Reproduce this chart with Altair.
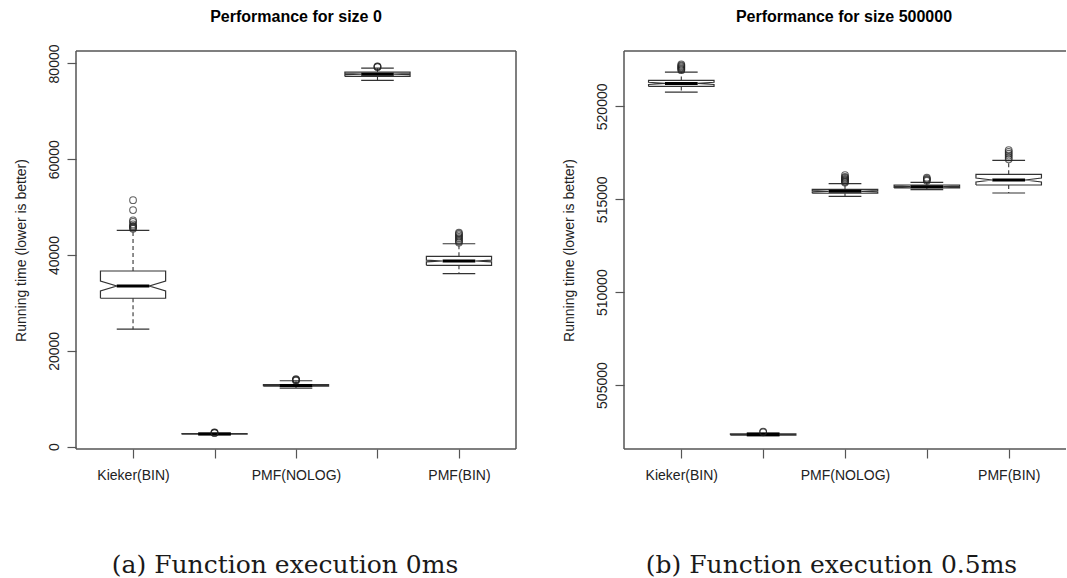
import altair as alt
import pandas as pd

# ---------------- data ----------------
categories = ["Kieker(BIN)", "Kieker(NOLOG)", "PMF(NOLOG)", "PMF(ASCII)", "PMF(BIN)"]
shown_labels = ["Kieker(BIN)", "", "PMF(NOLOG)", "", "PMF(BIN)"]

# Panel (a): size 0
s0_q1 = [30980, 2600, 12600, 77290, 37850]
s0_med = [33540, 2640, 12780, 77770, 38750]
s0_q3 = [36670, 2700, 12950, 78190, 39730]
s0_wlo = [24520, 2500, 12230, 76460, 36100]
s0_whi = [45150, 2800, 13750, 79020, 42350]
s0_nlo = [32500, 2630, 12740, 77680, 38570]
s0_nhi = [34580, 2650, 12820, 77860, 38930]
s0_out = [
    [45500, 45690, 45900, 46100, 46400, 46940, 47230, 49380, 51460],
    [2850, 2900, 2950],
    [13800, 13900, 14000, 14100],
    [79250, 79320, 79400],
    [42600, 42900, 43200, 43500, 43800, 44100, 44400, 44650],
]

# Panel (b): size 500000
s5_q1 = [521075, 502310, 515323, 515608, 515769]
s5_med = [521237, 502344, 515430, 515678, 516038]
s5_q3 = [521398, 502380, 515538, 515769, 516344]
s5_wlo = [520769, 502260, 515161, 515516, 515339]
s5_whi = [521844, 502430, 515839, 515914, 517097]
s5_nlo = [521179, 502331, 515391, 515649, 515934]
s5_nhi = [521295, 502357, 515469, 515707, 516142]
s5_out = [
    [521950, 522000, 522050, 522100, 522150, 522200, 522260],
    [502460, 502500],
    [515900, 515950, 516000, 516050, 516100, 516150, 516200, 516300],
    [516000, 516050, 516100, 516160],
    [517150, 517250, 517350, 517450, 517550, 517650],
]

y0_ticks = [0, 20000, 40000, 60000, 80000]
y5_ticks = [505000, 510000, 515000, 520000]

titles = ["Performance for size 0", "Performance for size 500000"]
captions = ["(a) Function execution 0ms", "(b) Function execution 0.5ms"]

# ---------------- styling constants ----------------
HALF = 0.4          # half box width (R boxwex 0.8)
FONT = "Liberation Sans"
LINE = "#333333"
AXC = "#555555"
PH = 398            # plot height


def panel(title, caption, q1, med, q3, wlo, whi, nlo, nhi, outs,
          ydomain, yticks, width, cap_x, right_edge):
    poly, meds, whisk, caps, pts = [], [], [], [], []
    for i, cat in enumerate(categories):
        x = i + 1
        shape = [
            (x - HALF, q1[i]), (x - HALF, nlo[i]), (x - HALF / 2, med[i]),
            (x - HALF, nhi[i]), (x - HALF, q3[i]), (x + HALF, q3[i]),
            (x + HALF, nhi[i]), (x + HALF / 2, med[i]), (x + HALF, nlo[i]),
            (x + HALF, q1[i]), (x - HALF, q1[i]),
        ]
        for k, (px, py) in enumerate(shape):
            poly.append({"cat": cat, "x": px, "y": py, "k": k})
        meds.append({"x": x - HALF / 2, "x2": x + HALF / 2, "y": med[i]})
        whisk.append({"x": x, "y": q3[i], "y2": whi[i]})
        whisk.append({"x": x, "y": q1[i], "y2": wlo[i]})
        caps.append({"x": x - HALF / 2, "x2": x + HALF / 2, "y": whi[i]})
        caps.append({"x": x - HALF / 2, "x2": x + HALF / 2, "y": wlo[i]})
        for o in outs[i]:
            pts.append({"x": x, "y": o})

    label_expr = "[" + ",".join("'" + s + "'" for s in shown_labels) + "][datum.value - 1]"

    xenc = alt.X(
        "x:Q",
        scale=alt.Scale(domain=[0.3, 5.7], nice=False, zero=False),
        axis=alt.Axis(
            values=[1, 2, 3, 4, 5], labelExpr=label_expr, labelOverlap=False,
            labelFlush=False, grid=False, domain=False, tickSize=9,
            tickColor=AXC, tickWidth=1.2, labelPadding=10, labelFontSize=14,
            labelFont=FONT, labelColor="#222222",
            title=caption, titleFont="DejaVu Serif", titleFontSize=25,
            titleFontWeight="normal", titleColor="#1a1a1a",
            titleX=cap_x, titleY=521 - PH, titleAlign="center",
            titleBaseline="alphabetic", titleAnchor="start",
        ),
    )
    yenc = alt.Y(
        "y:Q",
        scale=alt.Scale(domain=ydomain, nice=False, zero=False),
        axis=alt.Axis(
            values=yticks, format="d", labelAngle=-90, labelAlign="center",
            labelBaseline="alphabetic", labelPadding=8.5, grid=False,
            domain=False, tickSize=9, tickColor=AXC, tickWidth=1.2,
            labelFontSize=14, labelFont=FONT, labelColor="#222222",
            title="Running time (lower is better)", titleFont=FONT,
            titleFontSize=14, titleFontWeight="normal", titleColor="#222222",
            titleAngle=270, titleAlign="center", titleBaseline="middle",
            titleX=-55, titleY=PH / 2, titleAnchor="start",
        ),
    )

    boxes = alt.Chart(pd.DataFrame(poly)).mark_line(
        color=LINE, strokeWidth=1.2).encode(
        x=xenc, y=yenc, detail="cat:N", order="k:Q")
    whiskers = alt.Chart(pd.DataFrame(whisk)).mark_rule(
        color=LINE, strokeWidth=1.1, strokeDash=[4, 3]).encode(
        x=xenc, y=yenc, y2="y2:Q")
    capmarks = alt.Chart(pd.DataFrame(caps)).mark_rule(
        color=LINE, strokeWidth=1.2).encode(x=xenc, x2="x2:Q", y=yenc)
    medians = alt.Chart(pd.DataFrame(meds)).mark_rule(
        color="#000000", strokeWidth=3).encode(x=xenc, x2="x2:Q", y=yenc)
    outliers = alt.Chart(pd.DataFrame(pts)).mark_point(
        shape="circle", filled=False, color="#222222", size=45,
        strokeWidth=1.1).encode(x=xenc, y=yenc)
    head = alt.Chart(pd.DataFrame({"t": [title]})).mark_text(
        font=FONT, fontSize=16, fontWeight="bold", color="#000000",
        align="center", baseline="alphabetic").encode(
        text="t:N", x=alt.value(220), y=alt.value(-29.5))

    # plot frame (R's box()); the reference crops the right panel's right edge
    fr = alt.Chart(pd.DataFrame({"f": [0]}))
    frame = [
        fr.mark_rule(color=AXC, strokeWidth=1.5).encode(
            x=alt.value(0), x2=alt.value(width), y=alt.value(0)),
        fr.mark_rule(color=AXC, strokeWidth=1.5).encode(
            x=alt.value(0), x2=alt.value(width), y=alt.value(PH)),
        fr.mark_rule(color=AXC, strokeWidth=1.5).encode(
            x=alt.value(0), y=alt.value(0), y2=alt.value(PH)),
    ]
    if right_edge:
        frame.append(fr.mark_rule(color=AXC, strokeWidth=1.5).encode(
            x=alt.value(width), y=alt.value(0), y2=alt.value(PH)))

    return alt.layer(boxes, whiskers, capmarks, medians, outliers, head,
                     *frame).properties(width=width, height=PH)


left = panel(titles[0], captions[0],
             s0_q1, s0_med, s0_q3, s0_wlo, s0_whi, s0_nlo, s0_nhi, s0_out,
             [-500, 82600], y0_ticks, 440, 208.5, True)
right = panel(titles[1], captions[1],
              s5_q1, s5_med, s5_q3, s5_wlo, s5_whi, s5_nlo, s5_nhi, s5_out,
              [501560, 522980], y5_ticks, 442, 207, False)

chart = alt.hconcat(left, right, spacing=45).properties(
    padding={"left": 14, "top": 8, "right": 0, "bottom": 0},
    background="white",
).configure_view(stroke="transparent", strokeWidth=0)

chart.save("out.html", embed_options={"renderer": "svg", "actions": False})
